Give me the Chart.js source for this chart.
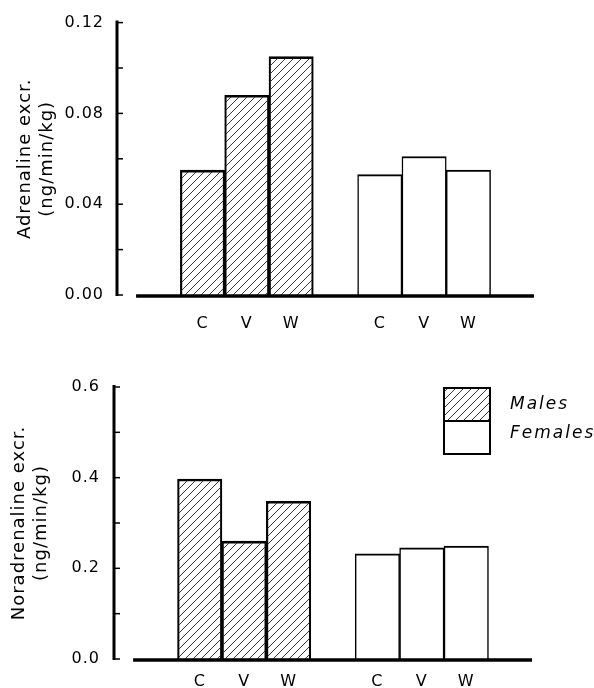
<!DOCTYPE html>
<html>
<head>
<meta charset="utf-8">
<script src="https://cdn.jsdelivr.net/npm/chart.js@4/dist/chart.umd.min.js"></script>
<style>
body{margin:0;background:#fff;}
#wrap{position:relative;width:594px;height:688px;}
.caja{position:absolute;left:0;width:594px;}
</style>
</head>
<body>
<div id="wrap">
  <div class="caja" style="top:0;height:340px"><canvas id="Adrenalina"></canvas></div>
  <div class="caja" style="top:340px;height:348px"><canvas id="Noradrenalina"></canvas></div>
</div>
<script>
// datos
var condiciones = ['C', 'V', 'W'];
var grupos = ['Males', 'Females'];
var adrMales = [0.055, 0.088, 0.105];
var adrFemales = [0.053, 0.061, 0.055];
var noradMales = [0.397, 0.260, 0.348];
var noradFemales = [0.232, 0.245, 0.249];
var adrTicks = ['0.00', '0.04', '0.08', '0.12'];
var noradTicks = ['0.0', '0.2', '0.4', '0.6'];

var fuente = "'DejaVu Sans', sans-serif";

// trama rayada para los machos
function Rayado() {
    var c = document.createElement('canvas');
    c.width = 8; c.height = 8;
    var g = c.getContext('2d');
    g.strokeStyle = '#222';
    g.lineWidth = 0.9;
    g.beginPath();
    g.moveTo(0, 8); g.lineTo(8, 0);
    g.moveTo(-1, 1); g.lineTo(1, -1);
    g.moveTo(7, 9); g.lineTo(9, 7);
    g.stroke();
    return g.createPattern(c, 'repeat');
}
var rayas = Rayado();

// posiciones en el eje x: grupo de machos y luego hembras con un hueco
function Puntos(valores, inicio) {
    return valores.map(function (v, i) { return { x: inicio + i, y: v }; });
}
var posiciones = condiciones.map(function (c, i) { return i + 1; })
    .concat(condiciones.map(function (c, i) { return i + 5; }));
var etiquetas = condiciones.concat(condiciones);

var ejes = {
    id: 'ejes',
    beforeDraw: function (chart) {
        chart.ctx.letterSpacing = '1px';
    },
    afterDatasetsDraw: function (chart) {
        var ctx = chart.ctx, a = chart.chartArea;
        var x = chart.scales.x, y = chart.scales.y;
        var cero = y.getPixelForValue(0);
        ctx.save();
        ctx.strokeStyle = '#000';
        ctx.lineCap = 'butt';
        // eje y
        ctx.lineWidth = 3;
        ctx.beginPath();
        ctx.moveTo(a.left, y.getPixelForValue(y.max) - 2);
        ctx.lineTo(a.left, cero + 1);
        ctx.stroke();
        // marcas hacia dentro
        ctx.lineWidth = 1.5;
        y.ticks.forEach(function (t) {
            var py = y.getPixelForValue(t.value);
            ctx.beginPath();
            ctx.moveTo(a.left, py);
            ctx.lineTo(a.left + 6, py);
            ctx.stroke();
        });
        // linea base
        ctx.lineWidth = 3.5;
        ctx.beginPath();
        ctx.moveTo(x.getPixelForValue(-0.5), cero + 1);
        ctx.lineTo(a.right, cero + 1);
        ctx.stroke();
        ctx.restore();
    }
};

var leyenda = {
    id: 'leyenda',
    afterDraw: function (chart) {
        if (!chart.options.plugins.leyenda.show) return;
        var ctx = chart.ctx, a = chart.chartArea;
        var left = a.right - 88, top = a.top + 1, w = 46, h = 33;
        ctx.save();
        chart.data.datasets.forEach(function (ds, i) {
            ctx.fillStyle = ds.backgroundColor;
            ctx.fillRect(left, top + i * h, w, h);
            ctx.strokeStyle = '#000';
            ctx.lineWidth = 2;
            ctx.strokeRect(left, top + i * h, w, h);
            ctx.fillStyle = '#000';
            ctx.font = 'italic 17px ' + fuente;
            ctx.letterSpacing = '2px';
            ctx.textBaseline = 'middle';
            ctx.fillText(ds.label, left + 66, top + i * h + (i === 0 ? 17 : 13));
        });
        ctx.restore();
    }
};

function Grafica(id, machos, hembras, marcas, paso, titulo, o) {
    var max = parseFloat(marcas[marcas.length - 1]);
    var decimales = marcas[0].split('.')[1].length;
    var ctx = document.getElementById(id).getContext('2d');
    return new Chart(ctx, {
        type: 'bar',
        data: {
            datasets: [{
                label: grupos[0],
                data: Puntos(machos, posiciones[0]),
                backgroundColor: rayas,
                borderColor: '#000',
                borderWidth: { top: 2, left: 1.5, right: 1.5, bottom: 0 },
                borderSkipped: 'start'
            }, {
                label: grupos[1],
                data: Puntos(hembras, posiciones[3]),
                backgroundColor: '#fff',
                borderColor: '#000',
                borderWidth: { top: 2, left: 1.5, right: 1.5, bottom: 0 },
                borderSkipped: 'start'
            }]
        },
        options: {
            responsive: true,
            maintainAspectRatio: false,
            animation: false,
            grouped: false,
            barPercentage: 1,
            categoryPercentage: 1,
            layout: { padding: { top: o.top, right: o.right, bottom: 0, left: 0 } },
            plugins: {
                legend: { display: false },
                tooltip: { enabled: false },
                leyenda: { show: o.leyenda }
            },
            scales: {
                x: {
                    type: 'linear',
                    offset: false,
                    min: -0.93,
                    max: 8.48,
                    grid: { display: false, drawTicks: false },
                    border: { display: false },
                    afterBuildTicks: function (s) {
                        s.ticks = posiciones.map(function (p) { return { value: p }; });
                    },
                    afterFit: function (s) { s.height = o.xAlto; },
                    ticks: {
                        autoSkip: false,
                        maxRotation: 0,
                        padding: o.xPad,
                        color: '#000',
                        font: { family: fuente, size: 16 },
                        callback: function (v) {
                            var i = posiciones.indexOf(v);
                            return i < 0 ? '' : etiquetas[i];
                        }
                    }
                },
                y: {
                    min: 0,
                    max: max,
                    grid: { display: false, drawTicks: false },
                    border: { display: false },
                    afterFit: function (s) { s.width = o.izq; },
                    ticks: {
                        stepSize: paso,
                        padding: o.yPad,
                        color: '#000',
                        font: { family: fuente, size: 16 },
                        callback: function (v) {
                            var txt = v.toFixed(decimales);
                            return marcas.indexOf(txt) < 0 ? '' : txt;
                        }
                    },
                    title: {
                        display: true,
                        text: titulo,
                        color: '#000',
                        font: { family: fuente, size: 18, lineHeight: 1.25 },
                        padding: { top: o.tPad, bottom: 0 }
                    }
                }
            }
        },
        plugins: [ejes, leyenda]
    });
}

Grafica('Adrenalina', adrMales, adrFemales, adrTicks, 0.02,
    ['Adrenaline excr.', '(ng/min/kg)'],
    { top: 22, right: 60, izq: 117, xAlto: 45, xPad: 19, yPad: 13, tPad: 14, leyenda: false });
Grafica('Noradrenalina', noradMales, noradFemales, noradTicks, 0.1,
    ['Noradrenaline excr.', '(ng/min/kg)'],
    { top: 47, right: 62, izq: 114, xAlto: 29, xPad: 13, yPad: 14, tPad: 8, leyenda: true });
</script>
</body>
</html>
